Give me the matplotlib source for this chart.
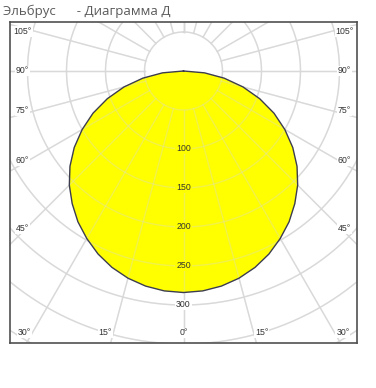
import numpy as np
import matplotlib.pyplot as plt

# luminous intensity curve (cd), symmetric, angle from nadir
angles = [0, 5, 10, 15, 20, 25, 30, 35, 40, 45, 50, 55, 60, 65, 70, 75, 80, 85, 90]
intensity = [284, 283, 280, 275, 268, 259, 248, 236, 222, 207, 190, 171, 150, 128, 104, 79, 53, 27, 0]

ring_values = [50, 100, 150, 200, 250, 300, 350, 400, 450]
ring_labels = [100, 150, 200, 250, 300]
side_angles = [105, 90, 75, 60, 45]
bottom_angles = [30, 15, 0, 15, 30]
bottom_sides = [-1, -1, 0, 1, 1]

title = "Эльбрус      - Диаграмма Д"

W, H = 376, 388
px = 0.78  # pixels per cd
cx, cy = 183.5, 71  # centre of the diagram in pixels
left, right, top, bottom = 10, 357, 22, 343

fig = plt.figure(figsize=(W / 100, H / 100), dpi=100)
ax = fig.add_axes([left / W, (H - bottom) / H, (right - left) / W, (bottom - top) / H])
ax.set_xlim((left - cx) / px, (right - cx) / px)
ax.set_ylim((cy - bottom) / px, (cy - top) / px)
ax.set_xticks([])
ax.set_yticks([])
for s in ax.spines.values():
    s.set_color("#505050")
    s.set_linewidth(1.2)


def draw_grid(**kw):
    t = np.linspace(0, 2 * np.pi, 400)
    for r in ring_values:
        ax.plot(r * np.sin(t), r * np.cos(t), **kw)
    for a in range(-180, 181, 15):
        rad = np.radians(a)
        rr = np.array([50, 700])
        ax.plot(rr * np.sin(rad), -rr * np.cos(rad), **kw)


# grid under the curve, and a faint copy on top of it
draw_grid(color="#dadada", lw=1.0, zorder=0)
draw_grid(color="#d8d8d8", lw=1.0, alpha=0.35, zorder=2)

# intensity curve
th = np.radians(angles)
I = np.array(intensity, dtype=float)
xs = np.concatenate([-(I * np.sin(th))[::-1], (I * np.sin(th))[1:]])
ys = np.concatenate([-(I * np.cos(th))[::-1], -(I * np.cos(th))[1:]])
ax.fill(xs, ys, color="#ffff00", zorder=1, lw=0)
ax.plot(np.append(xs, xs[0]), np.append(ys, ys[0]), color="#3c3c50", lw=1.0, zorder=4)

lab_kw = dict(fontsize=6.3, color="#333333", family="Liberation Sans",
              ha="center", va="center", zorder=5)

# ring labels
for r in ring_labels:
    bg = "#ffff00" if r < max(intensity) else "white"
    ax.text(0, -r, str(r), bbox=dict(facecolor=bg, edgecolor="none", pad=0.6), **lab_kw)

# side angle labels
xl = (cx - 22.5) / px
for a in side_angles:
    y = -xl / np.tan(np.radians(a))
    if a != 90:
        y += np.sign(90 - a) * 3.5 / px
    for sgn in (-1, 1):
        ax.text(sgn * xl, y, f"{a}°", bbox=dict(facecolor="white", edgecolor="none", pad=0.6), **lab_kw)

# bottom angle labels
yb = (cy - 333) / px
for a, sgn in zip(bottom_angles, bottom_sides):
    x = sgn * (-yb * np.tan(np.radians(a)) + 10.5)
    ax.text(x, yb, f"{a}°", bbox=dict(facecolor="white", edgecolor="none", pad=0.6), **lab_kw)

fig.text(3 / W, 1 - 15 / H, title, fontsize=9.5, color="#5a5a5a",
         family="Open Sans", va="baseline", ha="left")

fig.savefig("out.png", dpi=100, facecolor="white")
